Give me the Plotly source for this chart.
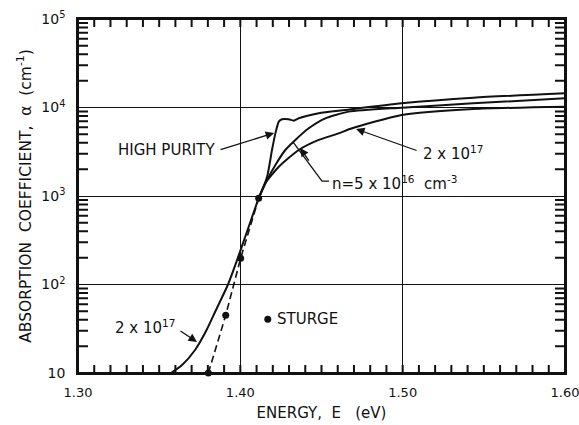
import plotly.graph_objects as go
import math

# ---- data ----
hp_E = [1.4113, 1.4165, 1.4195, 1.4216, 1.4237, 1.4257, 1.4298, 1.4329, 1.4360, 1.4483, 1.4647, 1.4994, 1.5436, 1.60]
hp_a = [942, 1650, 3310, 5100, 6920, 7360, 7360, 7100, 7550, 8600, 9370, 11150, 12900, 14450]

n5e16_E = [1.4113, 1.4165, 1.4216, 1.4277, 1.4339, 1.4421, 1.4524, 1.4668, 1.4994, 1.5434, 1.60]
n5e16_a = [942, 1520, 2240, 3310, 4300, 5820, 7550, 8980, 9950, 11150, 12700]

n2e17_E = [1.3577, 1.3641, 1.3721, 1.3792, 1.3850, 1.3924, 1.3980, 1.4023, 1.4066, 1.4113,
           1.4154, 1.4237, 1.4360, 1.4483, 1.4606, 1.4688, 1.4994, 1.5434, 1.60]
n2e17_a = [10.1, 12.3, 18.2, 30.6, 51.5, 100, 189, 318, 536, 942,
           1390, 2140, 3310, 4300, 5100, 5820, 8220, 9610, 10200]

sturge_E = [1.3803, 1.391, 1.4002, 1.4113]
sturge_a = [10, 45, 198, 942]

legend_dot_E = [1.4169]
legend_dot_a = [40.5]

x_tickvals = [1.30, 1.40, 1.50, 1.60]
x_ticktext = ["1.30", "1.40", "1.50", "1.60"]
y_tickvals = [10, 100, 1000, 10000, 100000]
y_ticktext = ["10", "10<sup>2</sup>", "10<sup>3</sup>", "10<sup>4</sup>", "10<sup>5</sup>"]

X_MIN, X_MAX = 1.30, 1.60
LOG_MIN, LOG_MAX = 1, 5

FONT = "DejaVu Sans"
BLACK = "#111111"

fig = go.Figure()

# ---- minor tick marks drawn as zig-zag paths running along each frame edge ----
PLOT_W, PLOT_H = 487, 354
x_per_px = (X_MAX - X_MIN) / PLOT_W
log_per_px = (LOG_MAX - LOG_MIN) / PLOT_H
minor_E = [round(X_MIN + i * 0.01, 2) for i in range(1, 30)]
minor_a = [k * 10**d for d in range(LOG_MIN, LOG_MAX) for k in range(2, 10)]

def zig_x(base_log, sign):
    xs, ys = [X_MIN], [10**base_log]
    tip = 10**(base_log + sign * 8 * log_per_px)
    for e in minor_E:
        xs += [e, e, e]
        ys += [10**base_log, tip, 10**base_log]
    xs.append(X_MAX)
    ys.append(10**base_log)
    return xs, ys

def zig_y(base_x, sign):
    xs, ys = [base_x], [10**LOG_MIN]
    tip = base_x + sign * 10 * x_per_px
    for v in minor_a:
        xs += [base_x, tip, base_x]
        ys += [v, v, v]
    xs.append(base_x)
    ys.append(10**LOG_MAX)
    return xs, ys

for xs, ys in [zig_x(LOG_MIN, 1), zig_x(LOG_MAX, -1), zig_y(X_MIN, 1), zig_y(X_MAX, -1)]:
    fig.add_trace(go.Scatter(x=xs, y=ys, mode="lines", line=dict(color=BLACK, width=2),
                             showlegend=False, hoverinfo="skip"))

for E, a in [(hp_E, hp_a), (n5e16_E, n5e16_a), (n2e17_E, n2e17_a)]:
    fig.add_trace(go.Scatter(x=E, y=a, mode="lines",
                             line=dict(color=BLACK, width=2, shape="spline", smoothing=0.6),
                             showlegend=False, hoverinfo="skip"))

fig.add_trace(go.Scatter(x=sturge_E, y=sturge_a, mode="lines+markers",
                         line=dict(color=BLACK, width=1.6, dash="7px,4px"),
                         marker=dict(color=BLACK, size=7),
                         cliponaxis=False, showlegend=False, hoverinfo="skip"))

fig.add_trace(go.Scatter(x=legend_dot_E, y=legend_dot_a, mode="markers",
                         marker=dict(color=BLACK, size=7),
                         showlegend=False, hoverinfo="skip"))

# leader line for n = 5x10^16 label
fig.add_trace(go.Scatter(x=[1.4547, 1.4503, 1.4325], y=[10**3.169, 10**3.169, 10**3.610],
                         mode="lines", line=dict(color=BLACK, width=1.3),
                         showlegend=False, hoverinfo="skip"))

def arrow(head, tail):
    fig.add_annotation(x=head[0], y=math.log10(head[1]), ax=tail[0], ay=math.log10(tail[1]),
                       xref="x", yref="y", axref="x", ayref="y", text="",
                       showarrow=True, arrowhead=2, arrowsize=1.3, arrowwidth=1.3,
                       arrowcolor=BLACK)

def label(x, a, txt, xanchor="left", size=15):
    fig.add_annotation(x=x, y=math.log10(a), xref="x", yref="y", text=txt,
                       showarrow=False, xanchor=xanchor, yanchor="middle",
                       font=dict(family=FONT, size=size, color=BLACK))

arrow((1.4208, 10**3.712), (1.3869, 10**3.520))
label(1.3857, 10**3.52, "HIGH PURITY", "right")

arrow((1.4713, 10**3.757), (1.5095, 10**3.508))
label(1.5113, 10**3.49, "2 x 10<sup>17</sup>", "left")

arrow((1.4368, 10**3.542), (1.4429, 10**3.384))
label(1.4553, 10**3.15, "n=5 x 10<sup>16</sup>  cm<sup>-3</sup>", "left")

arrow((1.3733, 10**1.350), (1.3622, 10**1.486))
label(1.3612, 10**1.52, "2 x 10<sup>17</sup>", "right")

label(1.4214, 10**1.615, "STURGE", "left")

fig.update_layout(
    width=579, height=425,
    margin=dict(l=78, r=14, t=19, b=52),
    paper_bgcolor="white", plot_bgcolor="white",
    font=dict(family=FONT, size=13, color=BLACK),
)

fig.update_xaxes(
    range=[X_MIN, X_MAX], tickmode="array", tickvals=x_tickvals, ticktext=x_ticktext,
    showgrid=True, gridcolor=BLACK, gridwidth=1,
    showline=True, linecolor=BLACK, linewidth=1.6, mirror=True,
    ticks="", zeroline=False, automargin=False, ticklabeloverflow="allow",
    tickfont=dict(family=FONT, size=13, color=BLACK), ticklabelstandoff=7,
    title=dict(text="ENERGY,  E   (eV)", font=dict(family=FONT, size=15, color=BLACK), standoff=8),
)

fig.update_yaxes(
    type="log", range=[LOG_MIN, LOG_MAX], tickmode="array", tickvals=y_tickvals, ticktext=y_ticktext,
    showgrid=True, gridcolor=BLACK, gridwidth=1,
    showline=True, linecolor=BLACK, linewidth=1.6, mirror=True,
    ticks="", zeroline=False, automargin=False, ticklabeloverflow="allow",
    tickfont=dict(family=FONT, size=14, color=BLACK), ticklabelstandoff=8,
    title=dict(text="ABSORPTION  COEFFICIENT,  α  (cm<sup>-1</sup>)",
               font=dict(family=FONT, size=15.5, color=BLACK), standoff=6),
)

fig.write_html("out.html")
